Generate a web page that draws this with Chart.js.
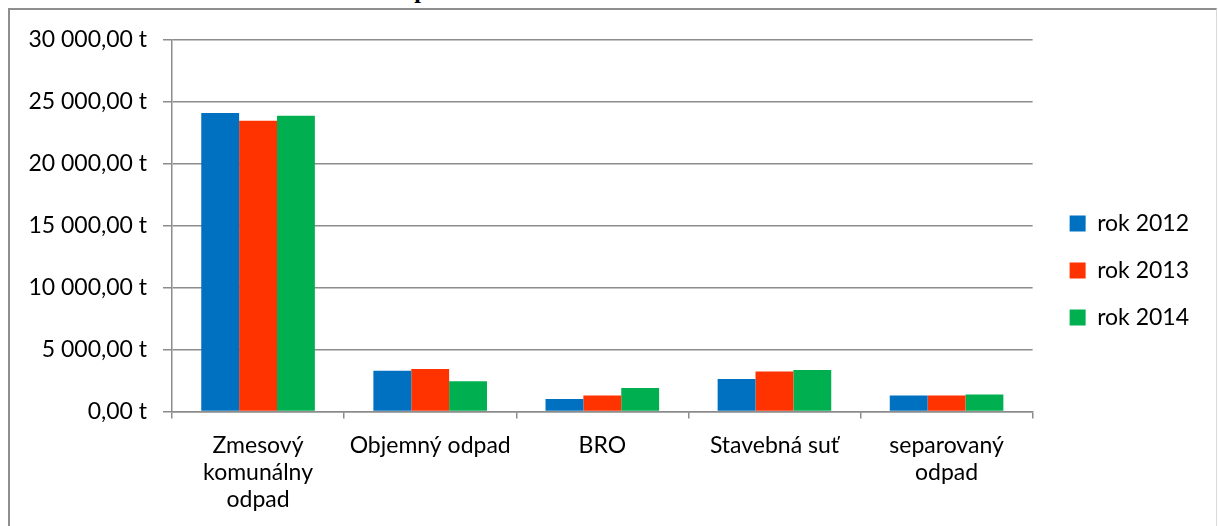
<!DOCTYPE html>
<html>
<head>
<meta charset="utf-8">
<script src="https://cdn.jsdelivr.net/npm/chart.js@4"></script>
<style>
    body { margin: 0; background: #fff; width: 1218px; height: 526px; overflow: hidden; position: relative; }
    .title { position: absolute; left: 65px; top: -23px; font: bold 24px "Liberation Serif", serif; color: #000; white-space: nowrap; }
    .frame { position: absolute; left: 8px; top: 8px; width: 1206px; height: 530px; border: 2px solid #8e8e8e; border-right: 1px solid #d9d9d9; background: #fff; }
    .box { position: absolute; left: 10px; top: 10px; width: 1206px; height: 516px; }
</style>
</head>
<body>
<div class="title">Graf č. 3:&nbsp;&nbsp;&nbsp;&nbsp;&nbsp;&nbsp;&nbsp;&nbsp;&nbsp;&nbsp;&nbsp;&nbsp;&nbsp;&nbsp;&nbsp;&nbsp;&nbsp;&nbsp;&nbsp;&nbsp;Množstvo odpadu v meste v rokoch 2012 – 2014</div>
<div class="frame"></div>
<div class="box"><canvas id="chart"></canvas></div>
<script>
// kategórie odpadu
const categories = [
    ['Zmesový', 'komunálny', 'odpad'],
    'Objemný odpad',
    'BRO',
    'Stavebná suť',
    ['separovaný', 'odpad']
];

// množstvo v tonách podľa rokov
const rok2012 = [24100, 3300, 1020, 2630, 1290];
const rok2013 = [23470, 3430, 1290, 3240, 1290];
const rok2014 = [23870, 2440, 1900, 3350, 1370];

const yTicks = [0, 5000, 10000, 15000, 20000, 25000, 30000];

function formatTons(v) {
    const parts = v.toFixed(2).split('.');
    const whole = parts[0].replace(/\B(?=(\d{3})+(?!\d))/g, ' ');
    return whole + ',' + parts[1] + ' t';
}

const gridColor = '#8c8c8c';

// posun legendy, aby sedela ako v origináli
const legendShift = {
    id: 'legendShift',
    afterLayout(chart) {
        const lg = chart.legend;
        lg.left += 13; lg.right += 13;
        lg.top -= 11; lg.bottom -= 11;
    }
};

new Chart(document.getElementById('chart'), {
    type: 'bar',
    data: {
        labels: categories,
        datasets: [
            { label: 'rok 2012', data: rok2012, backgroundColor: '#0070C0' },
            { label: 'rok 2013', data: rok2013, backgroundColor: '#FF3300' },
            { label: 'rok 2014', data: rok2014, backgroundColor: '#00B050' }
        ]
    },
    options: {
        responsive: true,
        maintainAspectRatio: false,
        animation: false,
        layout: { padding: { top: 27, right: 30, bottom: 0, left: 0 } },
        datasets: { bar: { categoryPercentage: 0.66, barPercentage: 1.0 } },
        plugins: {
            tooltip: { enabled: false },
            legend: {
                position: 'right',
                labels: {
                    boxWidth: 16,
                    boxHeight: 16,
                    padding: 24,
                    color: '#000',
                    font: { family: 'Lato', size: 23 }
                }
            }
        },
        scales: {
            x: {
                grid: { drawOnChartArea: false, drawTicks: true, tickLength: 7, color: gridColor, lineWidth: 1.5 },
                border: { color: gridColor, width: 1.5 },
                ticks: { color: '#000', padding: 13, maxRotation: 0, font: { family: 'Lato', size: 23, lineHeight: 1.18 } }
            },
            y: {
                min: 0,
                max: 30000,
                afterFit(scale) { scale.width = 162; },
                afterBuildTicks(scale) { scale.ticks = yTicks.map(v => ({ value: v })); },
                grid: { color: gridColor, lineWidth: 1.5, tickLength: 9 },
                border: { color: gridColor, width: 1.5 },
                ticks: { color: '#000', padding: 16, font: { family: 'Lato', size: 23 }, callback: v => formatTons(v) }
            }
        }
    },
    plugins: [legendShift]
});
</script>
</body>
</html>
